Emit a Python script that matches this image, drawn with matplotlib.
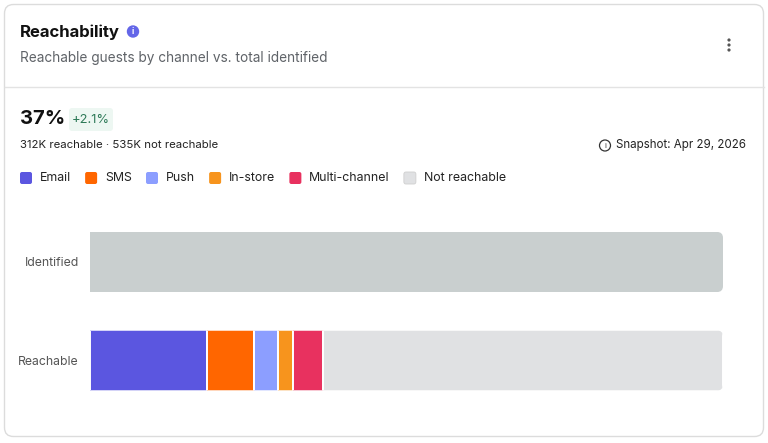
import matplotlib
matplotlib.use("Agg")
import matplotlib.pyplot as plt
from matplotlib.patches import FancyBboxPatch, Circle

plt.rcParams['font.family'] = ['Inter', 'DejaVu Sans']

# data (thousands of guests)
rows = ['Identified', 'Reachable']
channels = ['Email', 'SMS', 'Push', 'In-store', 'Multi-channel']
reach_k = [157, 62, 33, 19, 41]
not_reach_k = 535
identified_k = 847
channel_colors = ['#5b56e0', '#ff6600', '#8c9eff', '#f7941d', '#e8315f']
not_reach_color = '#e0e1e3'
identified_color = '#c9cfcf'

W, H = 768, 443
fig = plt.figure(figsize=(W / 100, H / 100), dpi=100)
fig.patch.set_facecolor('white')

# background / card layer in pixel coords
bg = fig.add_axes([0, 0, 1, 1])
bg.set_xlim(0, W)
bg.set_ylim(H, 0)
bg.axis('off')

card = FancyBboxPatch((4.5, 4.5), 759, 432, boxstyle='round,pad=0,rounding_size=9',
                      fc='white', ec='#dcdcdc', lw=1)
bg.add_patch(card)
bg.plot([4.5, 763.5], [86.5, 86.5], color='#e3e3e3', lw=1)

# header
bg.text(20, 32, 'Reachability', fontsize=12, fontweight='bold', color='#111111', va='center')
bg.add_patch(Circle((133, 31.5), 5.5, color='#6366e8'))
bg.text(133, 31.8, 'i', fontsize=6, fontweight='bold', color='white', ha='center', va='center')
bg.text(20, 58, 'Reachable guests by channel vs. total identified', fontsize=9.8,
        color='#5f6368', va='center')
for yy in [40, 45, 50]:
    bg.add_patch(Circle((729, yy), 0.9, color='#555555'))

# KPI
bg.text(20, 119, '37%', fontsize=14.5, fontweight='bold', color='#111111', va='center')
bg.add_patch(FancyBboxPatch((69, 108), 44, 23, boxstyle='round,pad=0,rounding_size=3',
                            fc='#edf7f2', ec='none'))
bg.text(91, 119.5, '+2.1%', fontsize=9.3, color='#2e7a58', ha='center', va='center')
bg.text(20, 145, '312K reachable \u00b7 535K not reachable', fontsize=8.2, color='#222222',
        va='center')

fig.canvas.draw()
renderer = fig.canvas.get_renderer()
inv = bg.transData.inverted()

snap = bg.text(746, 145, 'Snapshot: Apr 29, 2026', fontsize=8.3, color='#222222',
               ha='right', va='center')
sx0 = inv.transform((snap.get_window_extent(renderer).x0, 0))[0]
bg.add_patch(Circle((sx0 - 11, 145.5), 5.5, fc='none', ec='#333333', lw=0.9))
bg.text(sx0 - 11, 146, 'i', fontsize=5.5, color='#333333', ha='center', va='center')

# legend
lx = 20
for name, col in zip(channels + ['Not reachable'], channel_colors + [not_reach_color]):
    bg.add_patch(FancyBboxPatch((lx, 172), 12, 12, boxstyle='round,pad=0,rounding_size=2',
                                fc=col, ec='#cfcfcf' if col == not_reach_color else 'none',
                                lw=0.6))
    t = bg.text(lx + 20, 178, name, fontsize=8.9, color='#222222', va='center')
    bb = t.get_window_extent(renderer)
    lx = inv.transform((bb.x1, 0))[0] + 14

# bars
left_px, right_px = 90, 723
top_px, bot_px = 212.75, 409.75
ax = fig.add_axes([left_px / W, 1 - bot_px / H, (right_px - left_px) / W, (bot_px - top_px) / H])
ax.set_xlim(0, identified_k)
ax.set_ylim(1.5, -0.5)
for s in ax.spines.values():
    s.set_visible(False)
ax.set_xticks([])
ax.set_yticks(range(len(rows)))
ax.set_yticklabels(rows, fontsize=8.8, color='#555555')
ax.tick_params(axis='y', length=0, pad=8)
ax.patch.set_alpha(0)

bar_h = 0.61
r_px = 6
rx = r_px * identified_k / (right_px - left_px)
ry = r_px / (bot_px - top_px) * 2


def row_clip(row, total):
    clip = FancyBboxPatch((-rx, row - bar_h / 2), total + rx, bar_h,
                          boxstyle='round,pad=0,rounding_size=%f' % rx,
                          mutation_aspect=ry / rx, transform=ax.transData)
    return clip


ident = ax.barh(0, identified_k, height=bar_h, color=identified_color, lw=0)
clip0 = row_clip(0, identified_k)
for p in ident:
    p.set_clip_path(clip0)

clip1 = row_clip(1, sum(reach_k) + not_reach_k)
left = 0
for val, col in zip(reach_k + [not_reach_k], channel_colors + [not_reach_color]):
    b = ax.barh(1, val, left=left, height=bar_h, color=col, edgecolor='white', lw=1.4)
    for p in b:
        p.set_clip_path(clip1)
    left += val

fig.savefig('out.png', dpi=100, facecolor='white')
